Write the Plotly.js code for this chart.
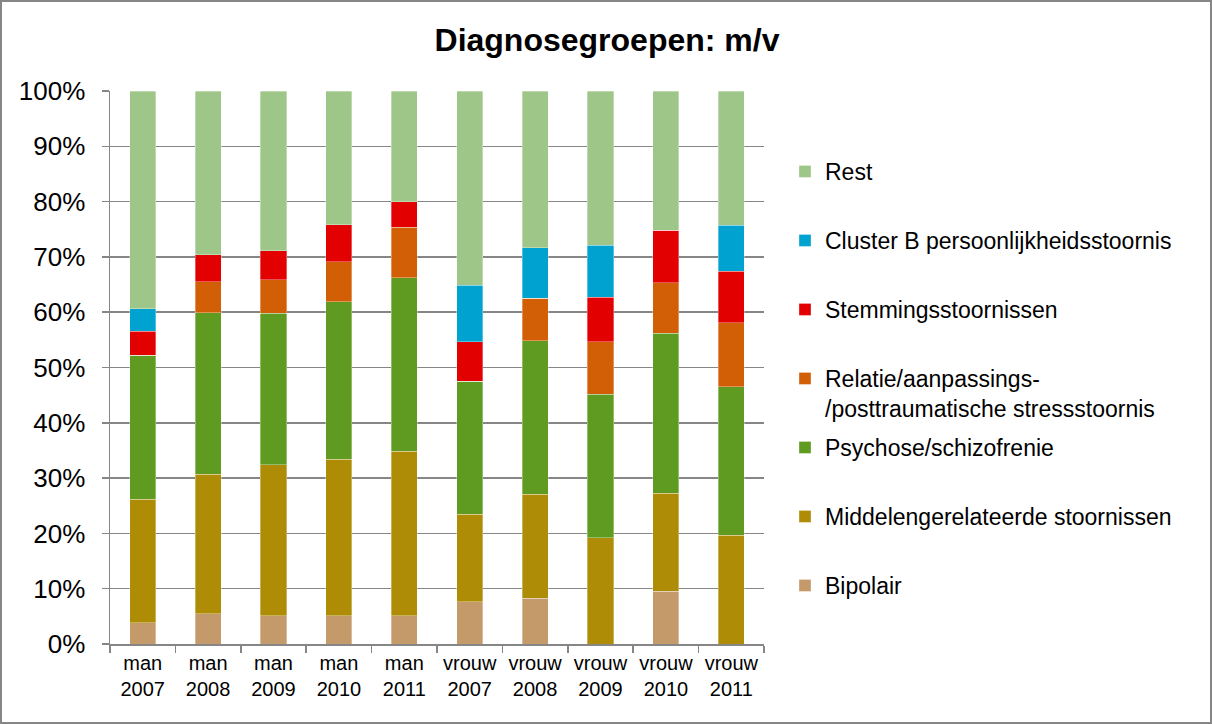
<!DOCTYPE html>
<html>
<head>
<meta charset="utf-8">
<script src="https://cdn.plot.ly/plotly-3.0.1.min.js"></script>
<style>
  html, body { margin: 0; padding: 0; background: #fff; }
  #chart { width: 1212px; height: 724px; }
</style>
</head>
<body>
<div id="chart"></div>
<script>
const categories = ["man<br>2007", "man<br>2008", "man<br>2009", "man<br>2010", "man<br>2011",
                    "vrouw<br>2007", "vrouw<br>2008", "vrouw<br>2009", "vrouw<br>2010", "vrouw<br>2011"];

const bipolair     = [3.8, 5.5, 5.1, 5.1, 5.1, 7.6, 8.3, 0.0, 9.5, 0.0];
const middelen     = [22.4, 25.2, 27.3, 28.3, 29.8, 15.9, 18.8, 19.2, 17.8, 19.7];
const psychose     = [26.0, 29.2, 27.4, 28.5, 31.3, 24.0, 27.7, 26.0, 28.9, 26.8];
const relatie      = [0.0, 5.6, 6.1, 7.2, 9.2, 0.0, 7.7, 9.5, 9.1, 11.6];
const stemmings    = [4.4, 4.9, 5.2, 6.7, 4.6, 7.2, 0.0, 8.0, 9.5, 9.3];
const clusterB     = [4.0, 0.0, 0.0, 0.0, 0.0, 10.2, 9.2, 9.4, 0.0, 8.3];
const rest         = [39.4, 29.6, 28.9, 24.2, 20.0, 35.1, 28.3, 27.9, 25.2, 24.3];

const yTickVals = [0, 10, 20, 30, 40, 50, 60, 70, 80, 90, 100];
const yTickText = ["0%", "10%", "20%", "30%", "40%", "50%", "60%", "70%", "80%", "90%", "100%"];

const seriesNames = [
  "Bipolair",
  "Middelengerelateerde stoornissen",
  "Psychose/schizofrenie",
  "Relatie/aanpassings-<br>/posttraumatische stressstoornis",
  "Stemmingsstoornissen",
  "Cluster B persoonlijkheidsstoornis",
  "Rest"
];
const seriesValues = [bipolair, middelen, psychose, relatie, stemmings, clusterB, rest];
const seriesColors = ["#C49A6A", "#AE8C05", "#5E9B20", "#D25F06", "#E20000", "#00A2CF", "#9FC689"];
// legend rows (first-line centre, pixels from top)
const legendRowY = [586, 517, 448, 379, 310, 241, 172];

const FONT = "Liberation Sans, Arial, Helvetica, sans-serif";
const M = { l: 110, r: 448, t: 91, b: 80 };
const W = 1212, H = 724;
const plotW = W - M.l - M.r, plotH = H - M.t - M.b;
const px2x = p => (p - M.l) / plotW;
const py2y = p => (H - M.b - p) / plotH;

const traces = seriesNames.map((n, i) => ({
  type: "bar",
  name: n,
  x: categories,
  y: seriesValues[i],
  marker: { color: seriesColors[i], line: { width: 0.6, color: "rgba(255,255,255,0.55)" } },
  legend: i === 0 ? "legend" : "legend" + (i + 1),
  showlegend: true,
  hoverinfo: "name+y"
}));

const layout = {
  width: W, height: H,
  margin: M,
  showlegend: true,
  paper_bgcolor: "#ffffff",
  plot_bgcolor: "#ffffff",
  font: { family: FONT, color: "#000000" },
  barmode: "stack",
  bargap: 0.6,
  title: {
    text: "<b>Diagnosegroepen: m/v</b>",
    font: { family: FONT, size: 32, color: "#000000" },
    xref: "container", yref: "container",
    x: 607 / W, y: 1 - 40 / H, xanchor: "center", yanchor: "middle"
  },
  xaxis: {
    type: "category",
    showline: true, linecolor: "#868686", linewidth: 1.5,
    ticks: "outside", tickson: "boundaries", ticklen: 7, tickcolor: "#868686", tickwidth: 1.5,
    showgrid: false,
    tickangle: 0,
    tickfont: { family: FONT, size: 20, color: "#000000" },
    fixedrange: true
  },
  yaxis: {
    range: [0, 100],
    tickvals: yTickVals, ticktext: yTickText,
    showline: true, linecolor: "#868686", linewidth: 1.5,
    ticks: "outside", ticklen: 7, tickcolor: "#868686", tickwidth: 1.5,
    showgrid: true, gridcolor: "#868686", gridwidth: 1.5,
    zeroline: false,
    tickfont: { family: FONT, size: 26, color: "#000000" },
    ticklabelstandoff: 11,
    fixedrange: true
  },
  shapes: [{
    type: "rect", xref: "paper", yref: "paper",
    x0: px2x(1), x1: px2x(W - 1), y0: py2y(H - 1), y1: py2y(1),
    line: { color: "#868686", width: 2 }, fillcolor: "rgba(0,0,0,0)", layer: "below"
  }]
};

const legendX = px2x(785);
seriesNames.forEach((n, i) => {
  const key = i === 0 ? "legend" : "legend" + (i + 1);
  layout[key] = {
    visible: true,
    x: legendX, xanchor: "left",
    y: py2y(legendRowY[i] - 22), yanchor: "top",
    bgcolor: "rgba(0,0,0,0)", borderwidth: 0,
    valign: "top",
    font: { family: FONT, size: 23, color: "#000000" }
  };
});

Plotly.newPlot("chart", traces, layout, { displayModeBar: false, staticPlot: true });
</script>
</body>
</html>
